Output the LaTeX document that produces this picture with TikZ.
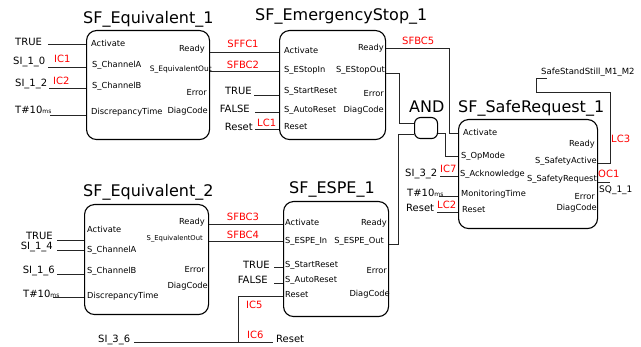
\documentclass[tikz,border=0pt]{standalone}
\usepackage{fontspec}
\setmainfont{DejaVu Sans}
\definecolor{sigred}{RGB}{255,0,0}
\begin{document}
\begin{tikzpicture}[x=1pt,y=-1pt,
  blk/.style={draw, rounded corners=10pt, line width=1.1pt, inner sep=0pt, anchor=north west},
  wire/.style={line width=0.9pt, draw=black!85},
  ttl/.style={font=\fontsize{16}{16}\selectfont, inner sep=0pt, anchor=base west},
  pl/.style={font=\fontsize{8.3}{8.3}\selectfont, inner sep=0pt, anchor=base west},
  pr/.style={pl, anchor=base east},
  lbl/.style={font=\fontsize{10}{10}\selectfont, inner sep=0pt, anchor=base west},
  lblr/.style={lbl, anchor=base east},
  sig/.style={lbl, text=sigred}]
\useasboundingbox (0,0) rectangle (641,347);
\newcommand{\msec}{{\fontsize{6}{6}\selectfont ms}}

% ---------- boxes ----------
\node[blk, minimum width=123pt, minimum height=109pt] (eq1) at (86,30) {};
\node[blk, minimum width=106pt, minimum height=109pt] (es) at (279,30) {};
\node[blk, rounded corners=6pt, minimum width=23pt, minimum height=21pt] (and) at (414,117) {};
\node[blk, minimum width=139pt, minimum height=109pt] (sr) at (458,119) {};
\node[blk, minimum width=124pt, minimum height=110pt] (eq2) at (84,204) {};
\node[blk, minimum width=105pt, minimum height=115pt] (espe) at (283,201) {};

% ---------- titles ----------
\node[ttl] (t1) at (83,24) {SF\_Equivalent\_1};
\node[ttl] (t2) at (255,21) {SF\_EmergencyStop\_1};
\node[ttl] (t3) at (409,113) {AND};
\node[ttl] (t4) at (458,113) {SF\_SafeRequest\_1};
\node[ttl] (t5) at (83,197) {SF\_Equivalent\_2};
\node[ttl] (t6) at (289,194) {SF\_ESPE\_1};

% ---------- SF_Equivalent_1 ----------
\node[pl] (e1a) at (91,47) {Activate};
\node[pl] (e1b) at (92,68) {S\_ChannelA};
\node[pl] (e1c) at (92,89) {S\_ChannelB};
\node[pl] (e1d) at (91,115) {DiscrepancyTime};
\node[pr] (e1e) at (205,52) {Ready};
\node[pr, font=\fontsize{7.5}{7.5}\selectfont] (e1f) at (212,72) {S\_EquivalentOut};
\node[pr] (e1g) at (207,96) {Error};
\node[pr] (e1h) at (208,114) {DiagCode};

\node[lbl] (i1) at (15,45.5) {TRUE};
\node[lbl] (i2) at (13,65) {SI\_1\_0};
\node[lbl] (i3) at (15,87) {SI\_1\_2};
\node[lbl] (i4) at (15,114) {T\#10\msec};
\node[sig] (ic1) at (54,63) {IC1};
\node[sig] (ic2) at (53,85) {IC2};
\coordinate (w1) at (48,44);
\coordinate (w2) at (48,67);
\coordinate (w3) at (49,88);
\coordinate (w4) at (50,115);
\draw[wire] (w1) -- (w1 -| eq1.west);
\draw[wire] (w2) -- (w2 -| eq1.west);
\draw[wire] (w3) -- (w3 -| eq1.west);
\draw[wire] (w4) -- (w4 -| eq1.west);

\draw[wire] (eq1.east |- 0,52) -- (es.west |- 0,52);
\draw[wire] (eq1.east |- 0,71) -- (es.west |- 0,71);
\node[sig, anchor=base] (sffc1) at (243,48) {SFFC1};
\node[sig, anchor=base] (sfbc2) at (243,69) {SFBC2};

% ---------- SF_EmergencyStop_1 ----------
\node[pl] (s1a) at (284,54) {Activate};
\node[pl] (s1b) at (284,73) {S\_EStopIn};
\node[pl] (s1c) at (284,94) {S\_StartReset};
\node[pl] (s1d) at (284,113) {S\_AutoReset};
\node[pl] (s1e) at (284,130) {Reset};
\node[pr] (s1f) at (384,51) {Ready};
\node[pr] (s1g) at (385,73) {S\_EStopOut};
\node[pr] (s1h) at (384,97) {Error};
\node[pr] (s1i) at (384,113) {DiagCode};

\node[lblr] (j1) at (252,95) {TRUE};
\node[lblr] (j2) at (250,113) {FALSE};
\node[lblr] (j3) at (253,131) {Reset};
\node[sig] (lc1) at (257,127) {LC1};
\coordinate (v1) at (254,95);
\coordinate (v2) at (255,112);
\coordinate (v3) at (255,129);
\draw[wire] (v1) -- (v1 -| es.west);
\draw[wire] (v2) -- (v2 -| es.west);
\draw[wire] (v3) -- (v3 -| es.west);

\draw[wire] (es.east |- 0,48) -| (449,133) -- (sr.west |- 0,133);
\node[sig] (sfbc5) at (402,45) {SFBC5};
\draw[wire] (es.east |- 0,73) -| (399,123) -- (and.west |- 0,123);

% ---------- AND ----------
\draw[wire] (and.east |- 0,133) -| (445,156) -- (sr.west |- 0,156);
\draw[wire] (espe.east |- 0,244) -| (398,134) -- (and.west |- 0,134);

% ---------- SF_SafeRequest_1 ----------
\node[pl] (r1a) at (463,136) {Activate};
\node[pl] (r1b) at (461,159) {S\_OpMode};
\node[pl] (r1c) at (460,177) {S\_Acknowledge};
\node[pl] (r1d) at (461,197) {MonitoringTime};
\node[pl] (r1e) at (462,213) {Reset};
\node[pr] (r1f) at (595,147) {Ready};
\node[pr] (r1g) at (597,164) {S\_SafetyActive};
\node[pr] (r1h) at (597,182) {S\_SafetyRequest};
\node[pr] (r1i) at (595,200) {Error};
\node[pr] (r1j) at (597,211) {DiagCode};

\node[lbl] (k1) at (405,177) {SI\_3\_2};
\node[lbl] (k2) at (407,197) {T\#10\msec};
\node[lbl] (k3) at (406,212) {Reset};
\node[sig] (ic7) at (440,173) {IC7};
\node[sig] (lc2) at (437,209) {LC2};
\coordinate (u1) at (440,176);
\coordinate (u2) at (439,196);
\coordinate (u3) at (437,212);
\draw[wire] (u1) -- (u1 -| sr.west);
\draw[wire] (u2) -- (u2 -| sr.west);
\draw[wire] (u3) -- (u3 -| sr.west);

\node[pl, font=\fontsize{8.5}{8.5}\selectfont] (ssm) at (541,75) {SafeStandStill\_M1\_M2};
\coordinate (ssmw) at (547,78);
\draw[wire] (sr.east |- 0,163) -| (610,92) -| (536,78) -- (ssmw);
\node[sig] (lc3) at (611,143) {LC3};
\coordinate (sq) at (610,182);
\draw[wire] (sr.east |- 0,182) -- (sq);
\node[sig] (oc1) at (598,178) {OC1};
\node[lbl, font=\fontsize{9}{9}\selectfont] (sq11) at (599,193) {SQ\_1\_1};

% ---------- SF_Equivalent_2 ----------
\node[pl] (e2a) at (87,233) {Activate};
\node[pl] (e2b) at (87,253) {S\_ChannelA};
\node[pl] (e2c) at (87,274) {S\_ChannelB};
\node[pl] (e2d) at (87,299) {DiscrepancyTime};
\node[pr] (e2e) at (205,225) {Ready};
\node[pr, font=\fontsize{6.8}{6.8}\selectfont] (e2f) at (203,241) {S\_EquivalentOut};
\node[pr] (e2g) at (205,273) {Error};
\node[pr] (e2h) at (208,289) {DiagCode};

\node[lblr] (m1) at (53,240) {TRUE};
\node[lblr] (m2) at (53,250) {SI\_1\_4};
\node[lblr] (m3) at (55,274) {SI\_1\_6};
\node[lbl] (m4) at (23,298) {T\#10\msec};
\coordinate (x1) at (57,240);
\coordinate (x2) at (57,250);
\coordinate (x3) at (57,274);
\coordinate (x4) at (53,297);
\draw[wire] (x1) -- (x1 -| eq2.west);
\draw[wire] (x2) -- (x2 -| eq2.west);
\draw[wire] (x3) -- (x3 -| eq2.west);
\draw[wire] (x4) -- (x4 -| eq2.west);

\draw[wire] (eq2.east |- 0,224) -- (espe.west |- 0,224);
\draw[wire] (eq2.east |- 0,241) -- (espe.west |- 0,241);
\node[sig, anchor=base] (sfbc3) at (243,221) {SFBC3};
\node[sig, anchor=base] (sfbc4) at (243,239) {SFBC4};

% ---------- SF_ESPE_1 ----------
\node[pl] (p1a) at (285,226) {Activate};
\node[pl] (p1b) at (285,244) {S\_ESPE\_In};
\node[pl] (p1c) at (285,268) {S\_StartReset};
\node[pl] (p1d) at (285,283) {S\_AutoReset};
\node[pl] (p1e) at (285,298) {Reset};
\node[pr] (p1f) at (387,226) {Ready};
\node[pr] (p1g) at (384,244) {S\_ESPE\_Out};
\node[pr] (p1h) at (387,274) {Error};
\node[pr] (p1i) at (390,297) {DiagCode};

\node[lblr] (n1) at (270,269) {TRUE};
\node[lblr] (n2) at (268,284) {FALSE};
\coordinate (y1) at (274,267);
\coordinate (y2) at (274,283);
\draw[wire] (y1) -- (y1 -| espe.west);
\draw[wire] (y2) -- (y2 -| espe.west);

\node[lbl] (si36) at (98,343) {SI\_3\_6};
\node[lbl] (rst) at (276,343) {Reset};
\coordinate (z1) at (134,342);
\coordinate (z2) at (273,342);
\coordinate (zj) at (238,342);
\draw[wire] (z1) -- (z2);
\draw[wire] (espe.west |- 0,296) -| (zj);
\node[sig] (ic5) at (246,309) {IC5};
\node[sig] (ic6) at (247,339) {IC6};
\end{tikzpicture}
\end{document}
